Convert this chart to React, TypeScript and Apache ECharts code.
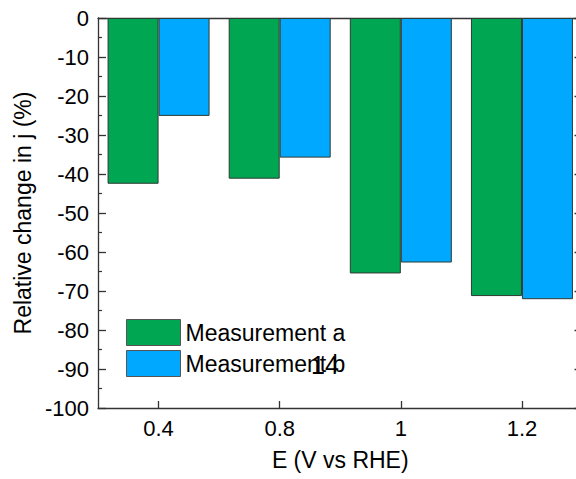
import React, { useEffect, useRef } from "react";
import * as echarts from "echarts";

const categories = ["0.4", "0.8", "1", "1.2"];
const seriesNames = ["Measurement a", "Measurement b"];
const measurementA = [-42.5, -41.2, -65.5, -71.3];
const measurementB = [-25.1, -35.8, -62.7, -72.1];
const yMin = -100;
const yMax = 0;
const yInterval = 10;
const overlayText = "14";

const FONT = "Liberation Sans, Arial, sans-serif";
const AXIS_COLOR = "#333333";
const TEXT_COLOR = "#000000";

export default function App() {
  const ref = useRef<HTMLDivElement>(null);

  useEffect(() => {
    if (!ref.current) return;
    const chart = echarts.init(ref.current, null, { renderer: "svg" });
    const barBorder = { borderColor: "#2f3a33", borderWidth: 1 };
    chart.setOption({
      animation: false,
      backgroundColor: "#ffffff",
      textStyle: { fontFamily: FONT },
      grid: { left: 98, top: 18, right: 7.5, bottom: 71, containLabel: false },
      legend: {
        orient: "vertical",
        left: 126,
        top: 319,
        padding: 0,
        itemWidth: 54,
        itemHeight: 26,
        itemGap: 4,
        icon: "rect",
        selectedMode: false,
        textStyle: { fontFamily: FONT, fontSize: 23, color: TEXT_COLOR },
        itemStyle: { borderColor: "#555", borderWidth: 1 },
        data: seriesNames,
      },
      xAxis: [
        {
          type: "category",
          data: categories,
          position: "bottom",
          name: "E (V vs RHE)",
          nameLocation: "middle",
          nameGap: 40,
          nameTextStyle: { fontFamily: FONT, fontSize: 23, color: TEXT_COLOR },
          axisLine: { onZero: false, lineStyle: { color: AXIS_COLOR, width: 1.3 } },
          axisTick: { show: true, inside: true, length: 7, alignWithLabel: true, interval: 0, lineStyle: { color: AXIS_COLOR, width: 1.3 } },
          axisLabel: { fontFamily: FONT, fontSize: 22, color: TEXT_COLOR, margin: 9, interval: 0 },
          splitLine: { show: false },
        },
        {
          type: "category",
          data: categories,
          position: "top",
          axisLine: { onZero: false, lineStyle: { color: AXIS_COLOR, width: 1.3 } },
          axisTick: { show: false },
          axisLabel: { show: false },
          splitLine: { show: false },
        },
      ],
      yAxis: [
        {
          type: "value",
          min: yMin,
          max: yMax,
          interval: yInterval,
          position: "left",
          name: "Relative change in j (%)",
          nameLocation: "middle",
          nameGap: 62,
          nameTextStyle: { fontFamily: FONT, fontSize: 23, color: TEXT_COLOR },
          axisLine: { show: true, onZero: false, lineStyle: { color: AXIS_COLOR, width: 1.3 } },
          axisTick: { show: true, inside: true, length: 8, lineStyle: { color: AXIS_COLOR, width: 1.3 } },
          minorTick: { show: true, splitNumber: 2, length: 4, lineStyle: { color: AXIS_COLOR, width: 1.2 } },
          axisLabel: { fontFamily: FONT, fontSize: 22, color: TEXT_COLOR, margin: 9 },
          splitLine: { show: false },
        },
        {
          type: "value",
          min: yMin,
          max: yMax,
          interval: yInterval,
          position: "right",
          axisLine: { show: true, onZero: false, lineStyle: { color: AXIS_COLOR, width: 1.3 } },
          axisTick: { show: true, inside: true, length: 8, lineStyle: { color: AXIS_COLOR, width: 1.3 } },
          minorTick: { show: true, splitNumber: 2, length: 4, lineStyle: { color: AXIS_COLOR, width: 1.2 } },
          axisLabel: { show: false },
          splitLine: { show: false },
        },
      ],
      series: [
        {
          name: seriesNames[0],
          type: "bar",
          data: measurementA,
          barWidth: 51,
          barGap: "0%",
          itemStyle: { color: "#00a651", ...barBorder },
        },
        {
          name: seriesNames[1],
          type: "bar",
          data: measurementB,
          barWidth: 51,
          barGap: "0%",
          itemStyle: { color: "#00a8ff", ...barBorder },
        },
      ],
      graphic: [
        {
          type: "text",
          left: 311,
          top: 352,
          z: 100,
          style: { text: overlayText, fontFamily: FONT, fontSize: 25, fill: TEXT_COLOR },
        },
      ],
    });
    return () => chart.dispose();
  }, []);

  return (
    <div style={{ position: "absolute", left: 0, top: 0, width: 576, height: 479, overflow: "hidden", background: "#fff" }}>
      <div ref={ref} style={{ width: 590, height: 479 }} />
    </div>
  );
}
